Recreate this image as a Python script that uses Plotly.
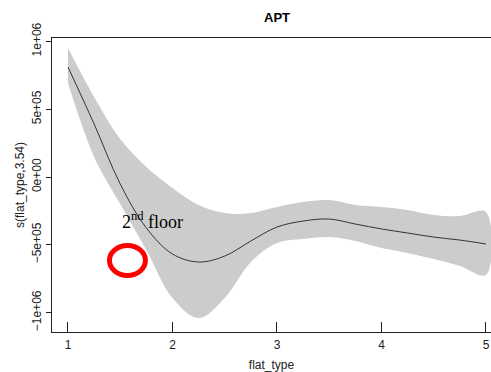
import plotly.graph_objects as go

flat_type = [1.0, 1.25, 1.5, 1.75, 2.0, 2.25, 2.5, 2.75, 3.0, 3.25, 3.5, 3.75, 4.0, 4.25, 4.5, 4.75, 5.0]
fit = [8.11e5, 3.91e5, -0.52e5, -3.76e5, -5.68e5, -6.27e5, -5.83e5, -4.72e5, -3.69e5, -3.25e5,
       -3.10e5, -3.47e5, -3.83e5, -4.13e5, -4.43e5, -4.65e5, -4.94e5]
upper = [9.51e5, 5.90e5, 2.80e5, 0.74e5, -0.81e5, -2.07e5, -2.66e5, -2.66e5, -2.21e5, -1.84e5,
         -1.70e5, -2.07e5, -2.21e5, -2.43e5, -2.80e5, -2.88e5, -2.58e5]
lower = [6.93e5, 1.48e5, -1.99e5, -5.38e5, -8.92e5, -10.4e5, -8.92e5, -6.27e5, -4.87e5, -4.57e5,
         -4.43e5, -4.72e5, -5.24e5, -5.60e5, -6.05e5, -6.56e5, -7.23e5]

x_ticks = [1, 2, 3, 4, 5]
y_ticks = [-1e6, -5e5, 0, 5e5, 1e6]
y_tick_labels = ["\u22121e+06", "\u22125e+05", "0e+00", "5e+05", "1e+06"]

fig = go.Figure()
fig.add_trace(go.Scatter(x=flat_type + flat_type[::-1], y=upper + lower[::-1],
                         fill="toself", fillcolor="#cccccc", line=dict(width=0, shape="spline"),
                         mode="lines", hoverinfo="skip", showlegend=False))
fig.add_trace(go.Scatter(x=flat_type, y=fit, mode="lines",
                         line=dict(color="#333333", width=1, shape="spline"), showlegend=False))

fig.add_shape(type="circle", xref="x", yref="y",
              x0=1.569 - 0.172, x1=1.569 + 0.172, y0=-6.16e5 - 1.106e5, y1=-6.16e5 + 1.106e5,
              line=dict(color="#ff0000", width=5))
fig.add_annotation(x=1.805, y=-3.2e5, xref="x", yref="y", text="2<sup>nd</sup> floor",
                   showarrow=False, font=dict(family="Liberation Serif", size=18, color="black"))

fig.update_layout(
    width=491, height=372,
    margin=dict(l=52, r=0, t=38, b=40),
    plot_bgcolor="white", paper_bgcolor="white",
    font=dict(family="Liberation Sans", size=12, color="#222222"),
    title=dict(text="<b>APT</b>", x=277 / 491, xanchor="center", y=1 - 17 / 372, yanchor="middle",
               font=dict(size=13, color="black")),
)
fig.update_xaxes(range=[0.847, 5.048], tickvals=x_ticks, ticks="inside", ticklen=10,
                 tickcolor="#222222", showline=True, linecolor="#222222", linewidth=1, mirror=True,
                 showgrid=False, zeroline=False, automargin=False, tickfont=dict(size=12),
                 ticklabelstandoff=2,
                 title=dict(text="flat_type", standoff=9, font=dict(size=12)))
fig.update_yaxes(range=[-1.143e6, 1.025e6], tickvals=y_ticks, ticktext=y_tick_labels, tickangle=-90,
                 ticks="outside", ticklen=5, tickcolor="#222222", showline=True, linecolor="#222222",
                 linewidth=1, showgrid=False, zeroline=False, automargin=False, tickfont=dict(size=12),
                 title=dict(text="s(flat_type,3.54)", standoff=3, font=dict(size=12)))

fig.write_html("out.html", config={"displayModeBar": False},
               post_script="document.body.style.margin='0';document.body.style.overflow='hidden';")
